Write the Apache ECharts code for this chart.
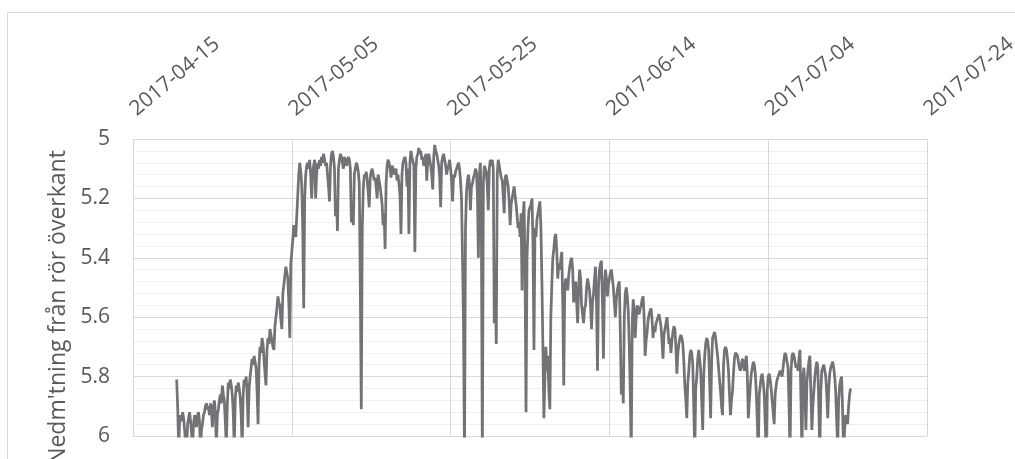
<!DOCTYPE html>
<html>
<head>
<meta charset="utf-8">
<script src="https://cdn.jsdelivr.net/npm/echarts@6/dist/echarts.min.js"></script>
<style>
  html, body { margin: 0; padding: 0; background: #ffffff; }
  #chart { width: 1015px; height: 459px; }
</style>
</head>
<body>
<div id="chart"></div>
<script>
// Reference date for the horizontal axis (day 0 = 2017-04-15)
const baseDate = Date.UTC(2017, 3, 15);
const dayMs = 86400000;

// Horizontal axis range and label spacing, in days after baseDate
const axisDays = { min: 0, max: 100, step: 20 };

// Depth axis (metres below top of pipe)
const depthTicks = { min: 5, max: 6, step: 0.2 };

// Logger readings: first reading 2017-04-20 12:00, then every three hours
const firstReading = 5.5;    // days after baseDate
const readingStep = 0.125;   // days

// One row per day (00, 03, 06, 09, 12, 15, 18, 21 h)
const depth = [
                          5.81, 5.90, 6.04, 5.95,
  5.93, 5.95, 5.92, 5.94, 5.94, 6.02, 6.05, 5.96,
  5.94, 5.92, 5.95, 5.99, 6.04, 5.96, 5.93, 5.95,
  5.97, 5.93, 5.92, 5.95, 6.05, 5.98, 5.96, 5.93,
  5.92, 5.90, 5.89, 5.91, 5.90, 5.93, 5.89, 5.92,
  5.97, 5.90, 5.88, 5.92, 6.04, 5.93, 5.91, 5.88,
  5.86, 5.89, 5.83, 5.86, 5.88, 5.95, 6.04, 5.90,
  5.82, 5.84, 5.81, 5.83, 5.86, 5.92, 6.04, 5.88,
  5.83, 5.85, 5.82, 5.84, 5.87, 5.93, 6.04, 5.86,
  5.81, 5.83, 5.80, 5.86, 5.97, 5.84, 5.80, 5.77,
  5.74, 5.76, 5.73, 5.75, 5.77, 5.85, 5.96, 5.76,
  5.70, 5.72, 5.67, 5.69, 5.74, 5.79, 5.83, 5.71,
  5.67, 5.69, 5.64, 5.66, 5.66, 5.70, 5.71, 5.63,
  5.60, 5.57, 5.53, 5.55, 5.56, 5.61, 5.64, 5.52,
  5.49, 5.46, 5.43, 5.45, 5.47, 5.55, 5.67, 5.42,
  5.38, 5.34, 5.29, 5.31, 5.33, 5.26, 5.19, 5.12,
  5.08, 5.11, 5.15, 5.30, 5.57, 5.20, 5.12, 5.09,
  5.08, 5.10, 5.07, 5.12, 5.20, 5.11, 5.09, 5.07,
  5.20, 5.12, 5.08, 5.10, 5.07, 5.09, 5.06, 5.08,
  5.05, 5.07, 5.09, 5.08, 5.12, 5.16, 5.21, 5.09,
  5.05, 5.04, 5.06, 5.10, 5.26, 5.20, 5.31, 5.10,
  5.07, 5.05, 5.06, 5.08, 5.10, 5.06, 5.07, 5.09,
  5.08, 5.06, 5.07, 5.10, 5.28, 5.26, 5.29, 5.12,
  5.10, 5.08, 5.09, 5.11, 5.15, 5.49, 5.91, 5.30,
  5.17, 5.12, 5.13, 5.11, 5.14, 5.18, 5.23, 5.13,
  5.11, 5.10, 5.12, 5.14, 5.13, 5.16, 5.20, 5.12,
  5.14, 5.16, 5.19, 5.22, 5.29, 5.25, 5.37, 5.15,
  5.09, 5.07, 5.08, 5.10, 5.13, 5.09, 5.10, 5.12,
  5.12, 5.10, 5.14, 5.12, 5.15, 5.19, 5.32, 5.12,
  5.08, 5.07, 5.06, 5.08, 5.16, 5.10, 5.32, 5.08,
  5.04, 5.06, 5.06, 5.09, 5.38, 5.10, 5.06, 5.05,
  5.03, 5.05, 5.04, 5.07, 5.06, 5.09, 5.08, 5.05,
  5.14, 5.07, 5.05, 5.07, 5.09, 5.12, 5.17, 5.06,
  5.02, 5.04, 5.05, 5.07, 5.09, 5.13, 5.23, 5.08,
  5.06, 5.05, 5.07, 5.09, 5.12, 5.10, 5.09, 5.07,
  5.10, 5.14, 5.21, 5.12, 5.13, 5.11, 5.10, 5.09,
  5.08, 5.10, 5.14, 5.20, 5.40, 5.62, 6.08, 5.30,
  5.18, 5.14, 5.12, 5.15, 5.24, 5.16, 5.15, 5.13,
  5.12, 5.10, 5.11, 5.18, 5.40, 5.12, 5.08, 5.30,
  6.08, 5.15, 5.09, 5.10, 5.11, 5.16, 5.24, 5.10,
  5.07, 5.09, 5.07, 5.10, 5.62, 5.45, 5.69, 5.12,
  5.07, 5.09, 5.11, 5.13, 5.14, 5.19, 5.25, 5.13,
  5.12, 5.14, 5.16, 5.21, 5.29, 5.22, 5.20, 5.18,
  5.16, 5.19, 5.22, 5.26, 5.30, 5.28, 5.33, 5.25,
  5.51, 5.26, 5.21, 5.45, 5.92, 5.40, 5.30, 5.24,
  5.24, 5.22, 5.20, 5.35, 5.71, 5.30, 5.33, 5.27,
  5.25, 5.23, 5.21, 5.30, 5.48, 5.70, 5.94, 5.80,
  5.70, 5.78, 5.73, 5.85, 5.91, 5.60, 5.49, 5.40,
  5.37, 5.33, 5.32, 5.38, 5.47, 5.42, 5.44, 5.41,
  5.38, 5.55, 5.83, 5.50, 5.47, 5.49, 5.51, 5.46,
  5.43, 5.41, 5.40, 5.44, 5.55, 5.50, 5.48, 5.55,
  5.62, 5.50, 5.44, 5.47, 5.56, 5.59, 5.62, 5.57,
  5.56, 5.50, 5.47, 5.49, 5.51, 5.56, 5.64, 5.55,
  5.52, 5.47, 5.43, 5.55, 5.78, 5.50, 5.44, 5.42,
  5.41, 5.55, 5.74, 5.50, 5.44, 5.47, 5.53, 5.49,
  5.47, 5.45, 5.44, 5.47, 5.50, 5.55, 5.60, 5.54,
  5.51, 5.49, 5.48, 5.65, 5.86, 5.80, 5.89, 5.60,
  5.52, 5.50, 5.53, 5.58, 5.69, 5.85, 6.06, 5.62,
  5.54, 5.58, 5.67, 5.60, 5.56, 5.58, 5.59, 5.57,
  5.56, 5.54, 5.53, 5.60, 5.73, 5.68, 5.65, 5.61,
  5.59, 5.58, 5.57, 5.61, 5.67, 5.63, 5.65, 5.62,
  5.61, 5.60, 5.59, 5.61, 5.63, 5.68, 5.74, 5.66,
  5.64, 5.62, 5.60, 5.64, 5.69, 5.67, 5.72, 5.68,
  5.65, 5.63, 5.64, 5.70, 5.79, 5.72, 5.69, 5.67,
  5.66, 5.67, 5.69, 5.75, 5.83, 5.88, 5.94, 5.82,
  5.78, 5.73, 5.71, 5.72, 5.76, 5.90, 6.06, 5.84,
  5.80, 5.74, 5.71, 5.74, 5.78, 5.88, 5.98, 5.80,
  5.73, 5.69, 5.67, 5.68, 5.71, 5.82, 5.94, 5.75,
  5.67, 5.66, 5.65, 5.67, 5.70, 5.73, 5.77, 5.81,
  5.85, 5.90, 5.93, 5.76, 5.71, 5.70, 5.71, 5.74,
  5.78, 5.86, 5.93, 5.88, 5.85, 5.79, 5.74, 5.72,
  5.72, 5.73, 5.75, 5.77, 5.78, 5.76, 5.74, 5.76,
  5.78, 5.75, 5.73, 5.80, 5.94, 5.88, 5.83, 5.79,
  5.77, 5.75, 5.76, 5.79, 5.85, 5.95, 6.06, 5.86,
  5.83, 5.80, 5.79, 5.82, 5.86, 5.96, 6.06, 5.85,
  5.80, 5.79, 5.81, 5.84, 5.88, 5.92, 5.96, 5.86,
  5.83, 5.81, 5.80, 5.79, 5.78, 5.79, 5.80, 5.77,
  5.74, 5.72, 5.73, 5.75, 5.77, 5.90, 6.06, 5.78,
  5.73, 5.72, 5.73, 5.75, 5.77, 5.76, 5.78, 5.74,
  5.71, 5.88, 6.06, 5.80, 5.77, 5.86, 5.98, 5.82,
  5.78, 5.75, 5.73, 5.85, 5.98, 5.90, 5.85, 5.80,
  5.77, 5.75, 5.77, 5.90, 6.06, 5.85, 5.78, 5.77,
  5.76, 5.78, 5.80, 5.86, 5.94, 5.84, 5.79, 5.77,
  5.76, 5.75, 5.77, 5.80, 5.85, 5.95, 6.04, 5.88,
  5.83, 5.81, 5.80, 5.92, 6.06, 5.98, 5.93, 5.94,
  5.96, 5.90, 5.86, 5.84
];

const axisTitle = "Nedm'tning från rör överkant";

const fontFamily = "'Open Sans', sans-serif";
const textColor = '#595959';
const gridColor = '#d9d9d9';
const minorGridColor = '#f0f0f0';
const lineColor = '#737377';

function dayToLabel(day) {
  const d = new Date(baseDate + Math.round(day) * dayMs);
  const mm = String(d.getUTCMonth() + 1).padStart(2, '0');
  const dd = String(d.getUTCDate()).padStart(2, '0');
  return d.getUTCFullYear() + '-' + mm + '-' + dd;
}

const seriesData = depth.map((v, i) => [firstReading + i * readingStep, v]);

const chart = echarts.init(document.getElementById('chart'), null, { renderer: 'canvas' });

chart.setOption({
  animation: false,
  backgroundColor: '#ffffff',
  textStyle: { fontFamily: fontFamily },
  graphic: [{
    type: 'rect',
    silent: true,
    shape: { x: 7.5, y: 12.5, width: 1030, height: 470 },
    style: { fill: 'none', stroke: gridColor, lineWidth: 1 }
  }],
  grid: {
    left: 133, top: 139, right: 88, bottom: 23,
    containLabel: false,
    outerBoundsMode: 'none'
  },
  xAxis: {
    type: 'value',
    position: 'top',
    min: axisDays.min,
    max: axisDays.max,
    interval: axisDays.step,
    axisLine: { show: false },
    axisTick: { show: false },
    splitLine: { show: true, lineStyle: { color: gridColor, width: 1 } },
    axisLabel: {
      rotate: -40,
      margin: 27,
      color: textColor,
      fontSize: 21,
      fontFamily: fontFamily,
      showMinLabel: true,
      showMaxLabel: true,
      hideOverlap: false,
      formatter: dayToLabel
    }
  },
  yAxis: {
    type: 'value',
    inverse: true,
    min: depthTicks.min,
    max: depthTicks.max,
    interval: depthTicks.step,
    name: axisTitle,
    nameLocation: 'middle',
    nameGap: 62,
    nameTextStyle: {
      color: textColor,
      fontSize: 23,
      fontFamily: fontFamily,
      padding: [0, 40, 0, 0]
    },
    axisLine: { show: false },
    axisTick: { show: false },
    minorTick: { show: false, splitNumber: 5 },
    minorSplitLine: { show: true, lineStyle: { color: minorGridColor, width: 1 } },
    splitLine: { show: true, lineStyle: { color: gridColor, width: 1 } },
    axisLabel: {
      margin: 23,
      color: textColor,
      fontSize: 21,
      fontFamily: fontFamily
    }
  },
  series: [{
    type: 'line',
    data: seriesData,
    showSymbol: false,
    clip: true,
    lineStyle: { color: lineColor, width: 2.75 },
    itemStyle: { color: lineColor }
  }]
});
</script>
</body>
</html>
